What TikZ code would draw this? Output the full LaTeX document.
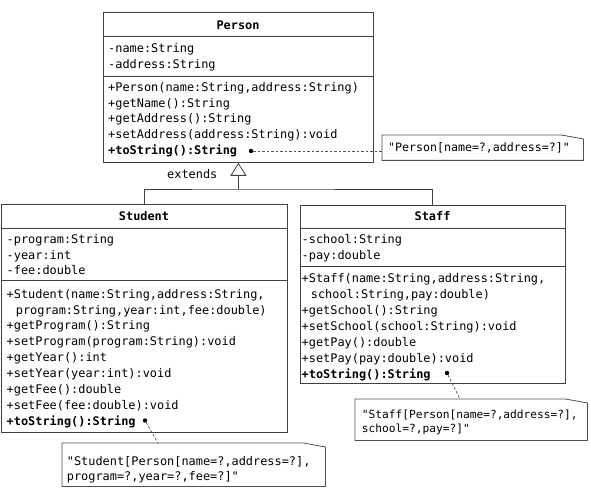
\documentclass[tikz,border=0pt]{standalone}
\usepackage{fontspec}
\newfontfamily\code{DejaVu Sans Mono}
\usetikzlibrary{arrows.meta}
\definecolor{linec}{HTML}{404040}
\definecolor{notec}{HTML}{505050}
\tikzset{
  clsbox/.style={draw=linec, line width=0.8pt, anchor=north west, inner sep=0pt, fill=white},
  txt/.style={anchor=base west, inner sep=0pt, font=\code\fontsize{11.9}{15}\selectfont},
  btxt/.style={txt, font=\code\bfseries\fontsize{11.9}{15}\selectfont},
  title/.style={anchor=base, inner sep=0pt, font=\code\bfseries\fontsize{11.9}{15}\selectfont},
  sepline/.style={draw=linec, line width=0.8pt},
  conn/.style={draw=linec, line width=0.8pt},
  notelink/.style={draw=notec, line width=0.7pt, dash pattern=on 2.5pt off 2pt},
  notebox/.style={draw=none, anchor=north west, inner sep=0pt},
  noteline/.style={draw=notec, line width=0.8pt},
  pin/.style={circle, fill=black, inner sep=0pt, minimum size=4.4pt},
}
\begin{document}
\begin{tikzpicture}[x=1pt,y=-1pt]
\useasboundingbox (0,0) rectangle (591,494);
% ---------- Person
\node[clsbox, minimum width=270, minimum height=150] (person) at (103,12) {};
\draw[sepline] (person.west |- 0,36) -- (person.east |- 0,36);
\draw[sepline] (person.west |- 0,76) -- (person.east |- 0,76);
\node[title] (ptitle) at (238,30) {Person};
\foreach \t [count=\i] in {{-name:String},{-address:String}}
  \node[txt] (pa\i) at (108,{52.3+15.8*(\i-1)}) {\t};
\foreach \t [count=\i] in {{+Person(name:String,address:String)},{+getName():String},{+getAddress():String},{+setAddress(address:String):void}}
  \node[txt] (pm\i) at (108,{91.7+15.65*(\i-1)}) {\t};
\node[btxt] (pm5) at (108,154.3) {+toString():String};
% ---------- Student
\node[clsbox, minimum width=286, minimum height=228] (student) at (1,204) {};
\draw[sepline] (student.west |- 0,228) -- (student.east |- 0,228);
\draw[sepline] (student.west |- 0,280) -- (student.east |- 0,280);
\node[title] (stitle) at (144,220.7) {Student};
\foreach \t [count=\i] in {{-program:String},{-year:int},{-fee:double}}
  \node[txt] (sa\i) at (6.5,{243.3+15.8*(\i-1)}) {\t};
\foreach \t [count=\i] in {{+Student(name:String,address:String,},{\phantom{+}\,program:String,year:int,fee:double)},{+getProgram():String},{+setProgram(program:String):void},{+getYear():int},{+setYear(year:int):void},{+getFee():double},{+setFee(fee:double):void}}
  \node[txt] (sm\i) at (6.5,{298.3+15.83*(\i-1)}) {\t};
\node[btxt] (sm9) at (6.5,425) {+toString():String};
% ---------- Staff
\node[clsbox, minimum width=265.5, minimum height=178] (staff) at (299.5,205) {};
\draw[sepline] (staff.west |- 0,228) -- (staff.east |- 0,228);
\draw[sepline] (staff.west |- 0,266) -- (staff.east |- 0,266);
\node[title] (ftitle) at (432.5,220.7) {Staff};
\foreach \t [count=\i] in {{-school:String},{-pay:double}}
  \node[txt] (fa\i) at (301.5,{243.3+15.8*(\i-1)}) {\t};
\foreach \t [count=\i] in {{+Staff(name:String,address:String,},{\phantom{+}\,school:String,pay:double)},{+getSchool():String},{+setSchool(school:String):void},{+getPay():double},{+setPay(pay:double):void}}
  \node[txt] (fm\i) at (301.5,{282.3+16*(\i-1)}) {\t};
\node[btxt] (fm7) at (301.5,378.3) {+toString():String};
% ---------- inheritance
\coordinate (j) at (person.south |- 0,189);
\draw[conn] (student.north) |- (j) -| (staff.north);
\draw[conn, -{Triangle[open, length=13pt, width=16pt, line width=0.8pt]}] (j) -- (person.south);
\node[txt] (ext) at (167,178.3) {extends};
% ---------- notes
\newcommand\notedraw[1]{%
  \draw[noteline, fill=white] (#1.south west) -- (#1.north west) -- ([xshift=-22pt]#1.north east) -- ([yshift=-4pt]#1.north east) -- (#1.south east) -- cycle;}
\node[notebox, minimum width=201, minimum height=25] (pnote) at (382,135) {};
\notedraw{pnote}
\node[txt, font=\code\fontsize{11.6}{15}\selectfont] (pnt) at (388,152) {"Person[name=?,address=?]"};
\node[notebox, minimum width=263, minimum height=43] (snote) at (62,443) {};
\notedraw{snote}
\node[txt] (snt1) at (66.7,465) {"Student[Person[name=?,address=?],};
\node[txt] (snt2) at (66.7,480) {program=?,year=?,fee=?]"};
\node[notebox, minimum width=232, minimum height=41] (fnote) at (355,399) {};
\notedraw{fnote}
\node[txt, font=\code\fontsize{11.2}{15}\selectfont] (fnt1) at (361.7,418.3) {"Staff[Person[name=?,address=?],};
\node[txt, font=\code\fontsize{11.2}{15}\selectfont] (fnt2) at (361.7,432.7) {school=?,pay=?]"};
% ---------- note links
\node[pin] (pd) at (251,151) {};
\node[pin] (sd) at (145,420.5) {};
\node[pin] (fd) at (447,373) {};
\draw[notelink] (pd) -- (pnote.west |- pd);
\draw[notelink] (sd) -- (snote.north -| 158,0);
\draw[notelink] (fd) -- (fnote.north -| 460,0);
\end{tikzpicture}
\end{document}
